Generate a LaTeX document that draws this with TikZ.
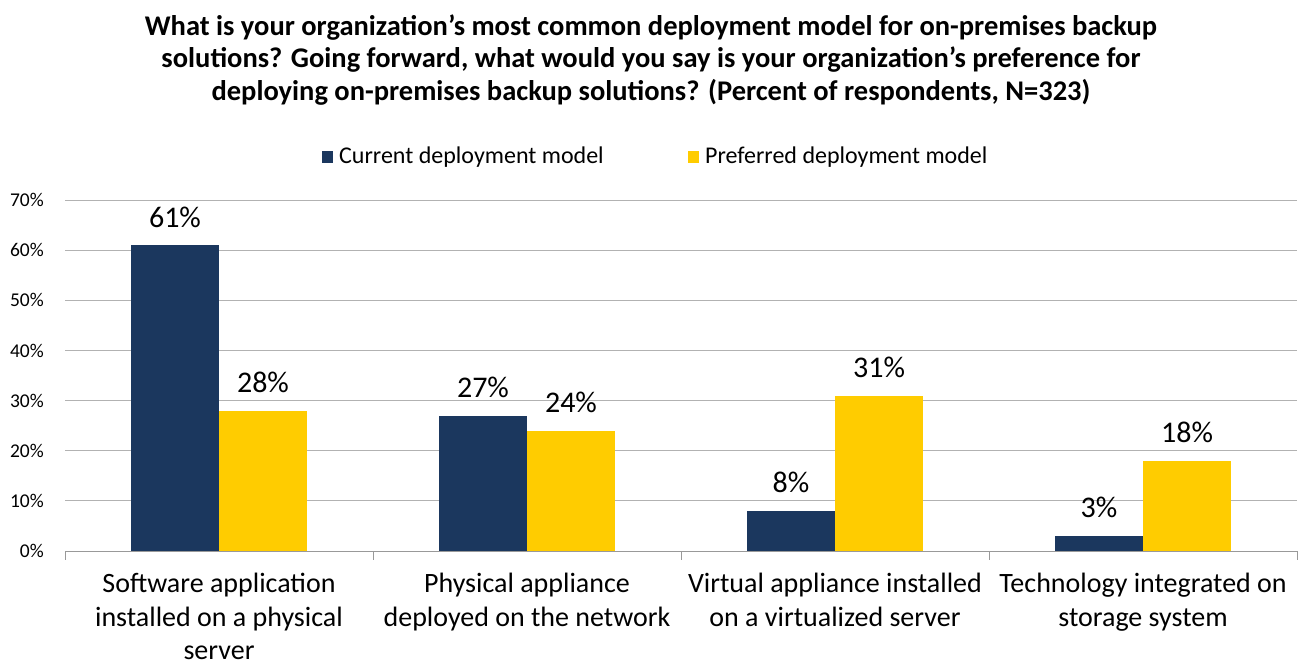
\documentclass[tikz,border=0pt]{standalone}
\usepackage{fontspec}
\setmainfont{Carlito}
\definecolor{navy}{RGB}{27,55,94}
\definecolor{gold}{RGB}{255,204,0}
\tikzset{
  grid line/.style={draw=gray!60,line width=1pt},
  bar cur/.style={fill=navy,draw=none},
  bar pref/.style={fill=gold,draw=none},
  val/.style={font=\fontsize{30}{33}\selectfont,anchor=base,inner sep=0pt},
  tick label/.style={font=\fontsize{19.5}{22}\selectfont,anchor=east,inner sep=0pt},
  cat label/.style={font=\fontsize{28}{33.5}\selectfont,align=center,anchor=north,inner sep=0pt},
  legend text/.style={anchor=west,inner sep=0pt,font=\fontsize{24}{28}\selectfont}
}
\begin{document}
\begin{tikzpicture}[x=1pt,y=-1pt]
\useasboundingbox (0,0) rectangle (1302,665);
% title
\node (title) at (651,60)[font=\bfseries\fontsize{28.5}{32.5}\selectfont,align=center]
  {What is your organization’s most common deployment model for on-premises backup\\
   solutions? Going forward, what would you say is your organization’s preference for\\
   deploying on-premises backup solutions? (Percent of respondents, N=323)};
% legend
\fill[navy] (322,151) rectangle (333,163);
\node (lgcur) at (339,157)[legend text]{Current deployment model};
\fill[gold] (688,151) rectangle (699,163);
\node (lgpref) at (705,157)[legend text]{Preferred deployment model};
% grid and y labels
\foreach \p in {1,...,7}
  \draw[grid line] (65,551-50.14*\p)--(1297,551-50.14*\p);
\foreach \p in {1,...,7}
  \node (y\p) at (44,551-50.14*\p)[tick label]{\p0\%};
\node (y0) at (44,551)[tick label]{0\%};
\draw[draw=gray!80,line width=1pt] (65,551)--(1297,551);
\foreach \i in {0,...,4}
  \draw[draw=gray!80,line width=1pt] (65+308*\i,551)--(65+308*\i,560);
% bars
\foreach \c/\cur/\pref [count=\i from 0] in {a/61/28,b/27/24,c/8/31,d/3/18}{
  \fill[bar cur] (131+308*\i,551) rectangle (219+308*\i,551-5.014*\cur);
  \fill[bar pref] (219+308*\i,551) rectangle (307+308*\i,551-5.014*\pref);
  \node (\c cur) at (175+308*\i,533-5.014*\cur)[val]{\cur\%};
  \node (\c pref) at (263+308*\i,533-5.014*\pref)[val]{\pref\%};
}
% categories
\node (cata) at (219,573)[cat label]{Software application\\installed on a physical\\server};
\node (catb) at (527,573)[cat label]{Physical appliance\\deployed on the network};
\node (catc) at (835,573)[cat label]{Virtual appliance installed\\on a virtualized server};
\node (catd) at (1143,573)[cat label]{Technology integrated on\\storage system};
\end{tikzpicture}
\end{document}
